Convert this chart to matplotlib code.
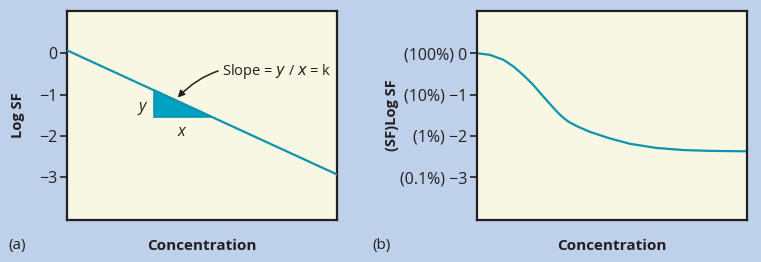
import numpy as np
import matplotlib
matplotlib.use('agg')
import matplotlib.pyplot as plt
from matplotlib.patches import Polygon

plt.rcParams['font.family'] = ['Open Sans', 'DejaVu Sans']

# panel (a): straight line log SF vs concentration
line_x = [0.0, 1.0]
line_y = [0.07, -2.93]
tri_x = [0.322, 0.537]
# panel (b): survival curve with resistant tail
curve_x = [0.0, 0.048, 0.098, 0.135, 0.172, 0.209, 0.246, 0.283, 0.300, 0.318, 0.340,
           0.369, 0.418, 0.493, 0.567, 0.666, 0.765, 0.864, 1.0]
curve_y = [0.0, -0.04, -0.16, -0.32, -0.53, -0.77, -1.05, -1.32, -1.44, -1.55, -1.66,
           -1.76, -1.90, -2.06, -2.19, -2.29, -2.34, -2.36, -2.37]
yticks = [0, -1, -2, -3]
ylabels_a = ['0', '\u22121', '\u22122', '\u22123']
ylabels_b = ['(100%) 0', '(10%) \u22121', '(1%) \u22122', '(0.1%) \u22123']

bg = '#bfd0ea'
face = '#f7f7e4'
teal = '#0f93ad'
ink = '#231f20'

fig = plt.figure(figsize=(7.61, 2.62), dpi=100, facecolor=bg)
W, H = 761, 262
ax1 = fig.add_axes([67 / W, 1 - 220 / H, 270 / W, 209 / H])
ax2 = fig.add_axes([477 / W, 1 - 220 / H, 270 / W, 209 / H])

for ax, labs in ((ax1, ylabels_a), (ax2, ylabels_b)):
    ax.set_facecolor(face)
    ax.set_xlim(0, 1)
    ax.set_ylim(-4.03, 1.02)
    ax.set_xticks([])
    ax.set_yticks(yticks)
    ax.set_yticklabels(labs, fontsize=11.5, color=ink)
    ax.tick_params(axis='y', length=5, width=1.2, color=ink, pad=2)
    for s in ax.spines.values():
        s.set_linewidth(1.6)
        s.set_color(ink)

# slope triangle
f = np.poly1d(np.polyfit(line_x, line_y, 1))
tri = Polygon([(tri_x[0], f(tri_x[0])), (tri_x[0], f(tri_x[1])), (tri_x[1], f(tri_x[1]))],
              closed=True, facecolor='#00a0c2', edgecolor=teal, lw=1.2, zorder=2)
ax1.add_patch(tri)
ax1.plot(line_x, line_y, color=teal, lw=1.6, zorder=3)
ax1.text(0.28, -1.31, 'y', fontsize=11.5, style='italic', ha='center', va='center', color=ink)
ax1.text(0.425, -1.9, 'x', fontsize=11.5, style='italic', ha='center', va='center', color=ink)
ax1.annotate('Slope = $\\it{y}$ / $\\it{x}$ = k', xy=(0.41, -1.07), xytext=(0.575, -0.43),
             fontsize=10.5, va='center', ha='left', color=ink,
             arrowprops=dict(arrowstyle='-|>', color=ink, lw=1.1,
                             connectionstyle='arc3,rad=0.3', shrinkA=1, shrinkB=0,
                             mutation_scale=10))

ax2.plot(curve_x, curve_y, color=teal, lw=1.6)

# axis titles and panel letters
fig.text(18 / W, 1 - 115 / H, 'Log SF', rotation=90, fontsize=10.5, fontweight='bold',
         ha='center', va='center', color=ink)
fig.text(392 / W, 1 - 115 / H, '(SF)Log SF', rotation=90, fontsize=10.5, fontweight='bold',
         ha='center', va='center', color=ink)
fig.text(202 / W, 1 - 246 / H, 'Concentration', fontsize=11, fontweight='bold',
         ha='center', va='center', color=ink)
fig.text(612 / W, 1 - 246 / H, 'Concentration', fontsize=11, fontweight='bold',
         ha='center', va='center', color=ink)
fig.text(8 / W, 1 - 246 / H, '(a)', fontsize=11, va='center', color=ink)
fig.text(372 / W, 1 - 246 / H, '(b)', fontsize=11, va='center', color=ink)

fig.savefig('out.png', dpi=100, facecolor=bg)
